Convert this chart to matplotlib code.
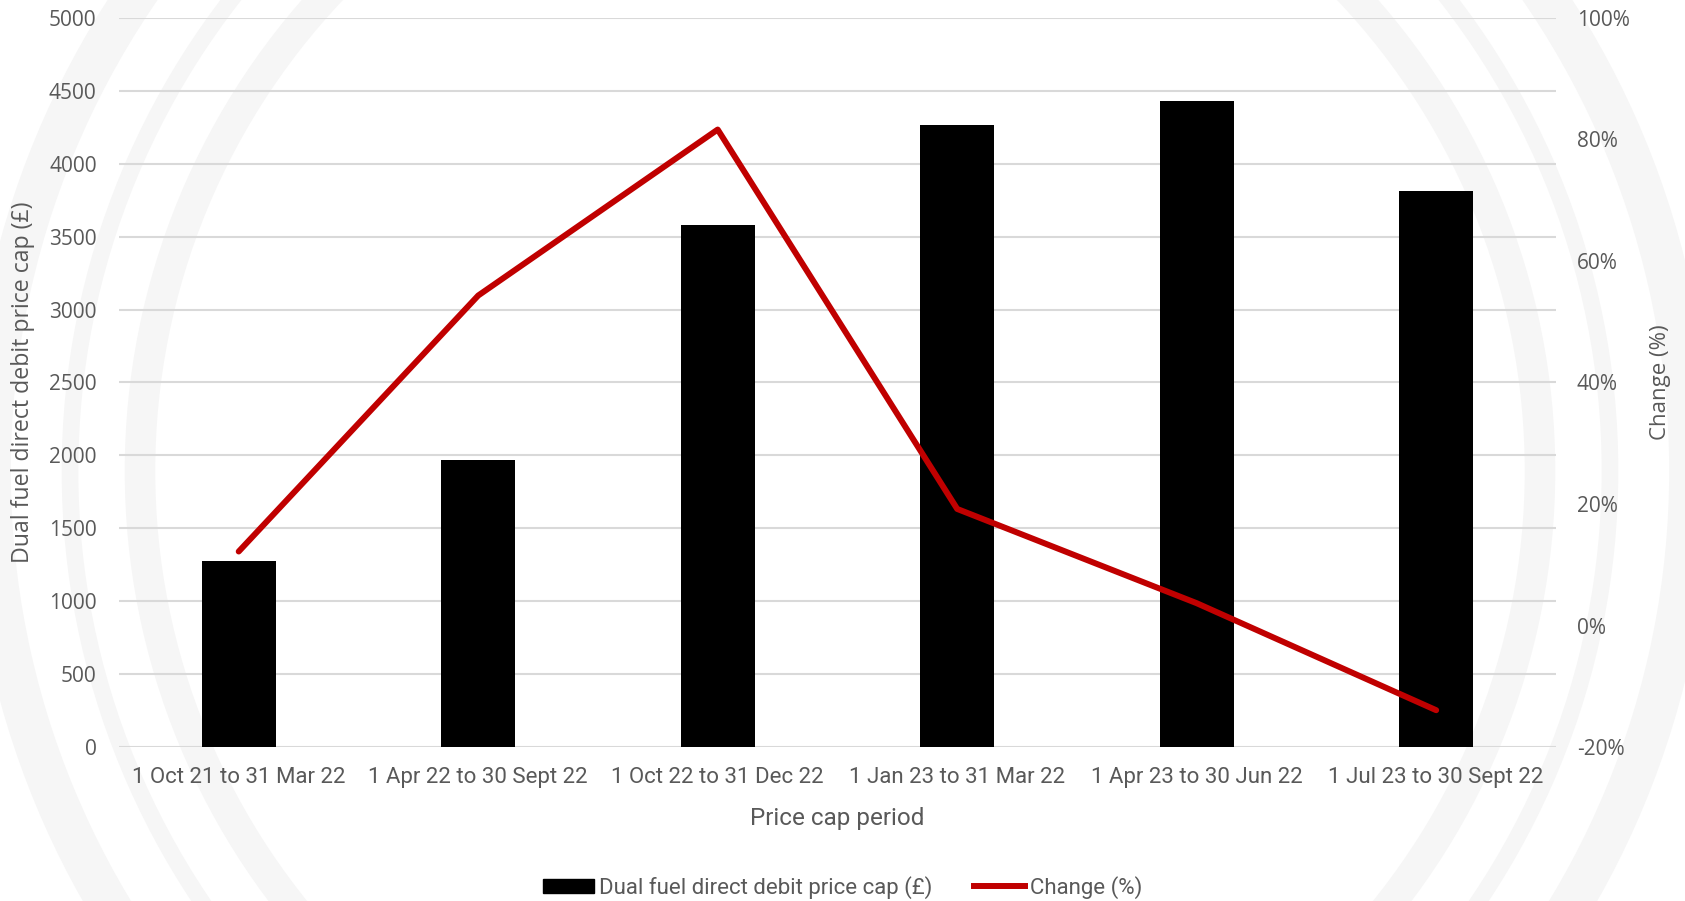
import matplotlib.pyplot as plt
from matplotlib.lines import Line2D
from matplotlib.patches import Patch, Circle
from matplotlib.ticker import FuncFormatter

# Price cap periods and values
periods = ['1 Oct 21 to 31 Mar 22', '1 Apr 22 to 30 Sept 22', '1 Oct 22 to 31 Dec 22',
           '1 Jan 23 to 31 Mar 22', '1 Apr 23 to 30 Jun 22', '1 Jul 23 to 30 Sept 22']
price_cap = [1277, 1971, 3580, 4267, 4427, 3810]
change_pct = [12.2, 54.3, 81.6, 19.2, 3.7, -13.9]

grey = '#595959'
narrow = ['Roboto', 'DejaVu Sans']
wide = ['Open Sans', 'DejaVu Sans']

fig = plt.figure(figsize=(16.85, 9.01), dpi=100)

# faint rings in the background
bg = fig.add_axes([0, 0, 1, 1], zorder=-10)
bg.set_xlim(0, 1685)
bg.set_ylim(0, 901)
bg.axis('off')
for r, lw in [(700, 22), (770, 12), (850, 30)]:
    bg.add_patch(Circle((840, 430), r, fill=False, edgecolor='#f6f6f6', linewidth=lw))

ax = fig.add_axes([0.0706, 0.1706, 0.8528, 0.8098])
ax.patch.set_alpha(0)
x = list(range(len(periods)))
ax.bar(x, price_cap, width=0.31, color='black', zorder=3)
ax.set_ylim(0, 5000)
ax.set_xlim(-0.5, len(periods) - 0.5)
ax.set_yticks(range(0, 5001, 500))
ax.grid(axis='y', color='#d9d9d9', linewidth=1.5, zorder=0)
for s in ax.spines.values():
    s.set_visible(False)
ax.tick_params(length=0)
ax.tick_params(axis='y', pad=16, labelcolor=grey, labelsize=15)
for lbl in ax.get_yticklabels():
    lbl.set_family(wide)
ax.set_xticks(x)
ax.set_xticklabels(periods, family=narrow, fontsize=16, color=grey)
ax.tick_params(axis='x', pad=14)
ax.set_xlabel('Price cap period', family=narrow, fontsize=17.5, color=grey, labelpad=14)
ax.set_ylabel('Dual fuel direct debit price cap (£)', family=wide, fontsize=16.7,
              color=grey, labelpad=10)

ax2 = ax.twinx()
ax2.plot(x, change_pct, color='#c00000', linewidth=4.3, solid_capstyle='round', zorder=4)
ax2.set_ylim(-20, 100)
ax2.set_yticks(range(-20, 101, 20))
ax2.yaxis.set_major_formatter(FuncFormatter(lambda v, p: f'{v:.0f}%'))
for s in ax2.spines.values():
    s.set_visible(False)
ax2.tick_params(length=0, pad=15, labelcolor=grey, labelsize=15)
for lbl in ax2.get_yticklabels():
    lbl.set_family(wide)
ax2.set_ylabel('Change (%)', family=wide, fontsize=16, color=grey, labelpad=15)

handles = [Patch(color='black'), Line2D([0], [0], color='#c00000', linewidth=4.3)]
fig.legend(handles, ['Dual fuel direct debit price cap (£)', 'Change (%)'],
           loc='center', bbox_to_anchor=(0.5, 0.015), ncol=2, frameon=False,
           prop={'family': narrow, 'size': 16}, labelcolor=grey,
           handlelength=2.3, handleheight=0.6, handletextpad=0.2, columnspacing=1.9)

fig.savefig('out.png', dpi=100)
